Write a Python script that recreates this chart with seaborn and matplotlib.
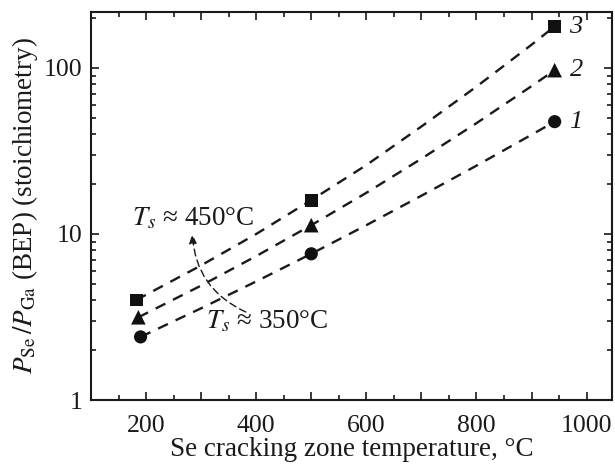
import matplotlib
matplotlib.use("Agg")
import matplotlib.pyplot as plt
import matplotlib.ticker as mticker
import seaborn as sns
import pandas as pd

# measured points (Se cracking zone temperature, P_Se/P_Ga)
temp_1 = [190, 500, 942]
ratio_1 = [2.4, 7.6, 47.5]
temp_2 = [186, 500, 942]
ratio_2 = [3.15, 11.3, 97]
temp_3 = [182, 500, 941]
ratio_3 = [4.0, 16.0, 177]

# dashed guide curves
curve_x_1 = [190, 300, 400, 500, 600, 700, 800, 900, 942]
curve_y_1 = [2.4, 3.57, 5.18, 7.6, 11.3, 17.0, 25.8, 39.6, 47.5]
curve_x_2 = [186, 300, 400, 500, 600, 700, 800, 900, 942]
curve_y_2 = [3.15, 4.89, 7.36, 11.3, 17.7, 28.4, 46.5, 77.7, 97]
curve_x_3 = [182, 300, 400, 500, 600, 700, 800, 900, 941]
curve_y_3 = [4.0, 6.47, 10.0, 16.0, 26.0, 44.4, 77.2, 138, 177]

series_names = ["1", "2", "3"]
markers = ["o", "^", "s"]
marker_sizes = [90, 110, 85]

sns.set_style("ticks")
plt.rcParams["font.family"] = ["Liberation Serif", "DejaVu Serif"]
plt.rcParams["mathtext.fontset"] = "stix"

points = pd.concat([
    pd.DataFrame({"T": t, "R": r, "s": n})
    for t, r, n in zip([temp_1, temp_2, temp_3], [ratio_1, ratio_2, ratio_3], series_names)
])
curves = pd.concat([
    pd.DataFrame({"T": t, "R": r, "s": n})
    for t, r, n in zip([curve_x_1, curve_x_2, curve_x_3],
                       [curve_y_1, curve_y_2, curve_y_3], series_names)
])

fig = plt.figure(figsize=(6.15, 4.66), dpi=100)
ax = fig.add_axes([0.148, 0.1416, 0.847, 0.8324])

for name, mk, ms in zip(series_names, markers, marker_sizes):
    sub = curves[curves["s"] == name]
    sns.lineplot(data=sub, x="T", y="R", ax=ax, color="#1a1a1a", lw=1.7,
                 sort=False, estimator=None)
    ax.lines[-1].set_dashes((4.6, 3.6))
    sns.scatterplot(data=points[points["s"] == name], x="T", y="R", marker=mk,
                    color="#111111", s=ms, edgecolor="none", ax=ax, legend=False, zorder=5)

ax.set_yscale("log")
ax.set_xlim(100, 1046)
ax.set_ylim(1, 217)

ax.xaxis.set_major_locator(mticker.MultipleLocator(100))
ax.xaxis.set_minor_locator(mticker.MultipleLocator(50))
ax.xaxis.set_major_formatter(mticker.FuncFormatter(
    lambda v, p: f"{int(v)}" if v % 200 == 0 else ""))
ax.yaxis.set_major_locator(mticker.LogLocator(base=10))
ax.yaxis.set_minor_locator(mticker.LogLocator(base=10, subs=range(2, 10)))
ax.yaxis.set_major_formatter(mticker.FuncFormatter(lambda v, p: f"{v:g}"))
ax.yaxis.set_minor_formatter(mticker.NullFormatter())

ax.tick_params(which="both", direction="in", top=True, right=True, width=1.2,
               labelsize=18.5, colors="#1a1a1a", pad=6)
ax.tick_params(axis="x", which="both", pad=11)
ax.tick_params(which="major", length=6)
ax.tick_params(which="minor", length=3.5)
for sp in ax.spines.values():
    sp.set_linewidth(1.5)
    sp.set_color("#1a1a1a")

ax.set_xlabel("Se cracking zone temperature, °C", fontsize=19.5, labelpad=0, color="#1a1a1a")
ax.set_ylabel(r"$P_{\mathrm{Se}}\,/P_{\mathrm{Ga}}$ (BEP) (stoichiometry)",
              fontsize=19.5, labelpad=3, color="#1a1a1a")

for y, n in zip([ratio_1[-1], ratio_2[-1], ratio_3[-1]], series_names):
    ax.text(969, y, n, fontsize=19, style="italic", ha="left", va="center", color="#1a1a1a")

ax.text(286, 12.4, r"$T_s$ ≈ 450°C", fontsize=19.5, ha="center", va="center", color="#1a1a1a")
ax.text(419, 2.95, r"$T_s$ ≈ 350°C", fontsize=19.5, ha="center", va="center", color="#1a1a1a")
ax.annotate("", xy=(284, 10.0), xytext=(381, 3.39),
            arrowprops=dict(arrowstyle="-|>,head_length=0.55,head_width=0.22", color="#1a1a1a",
                            lw=1.0, ls=(0, (5, 3)), connectionstyle="arc3,rad=-0.3",
                            shrinkA=0, shrinkB=0))

fig.savefig("out.png", dpi=100)
